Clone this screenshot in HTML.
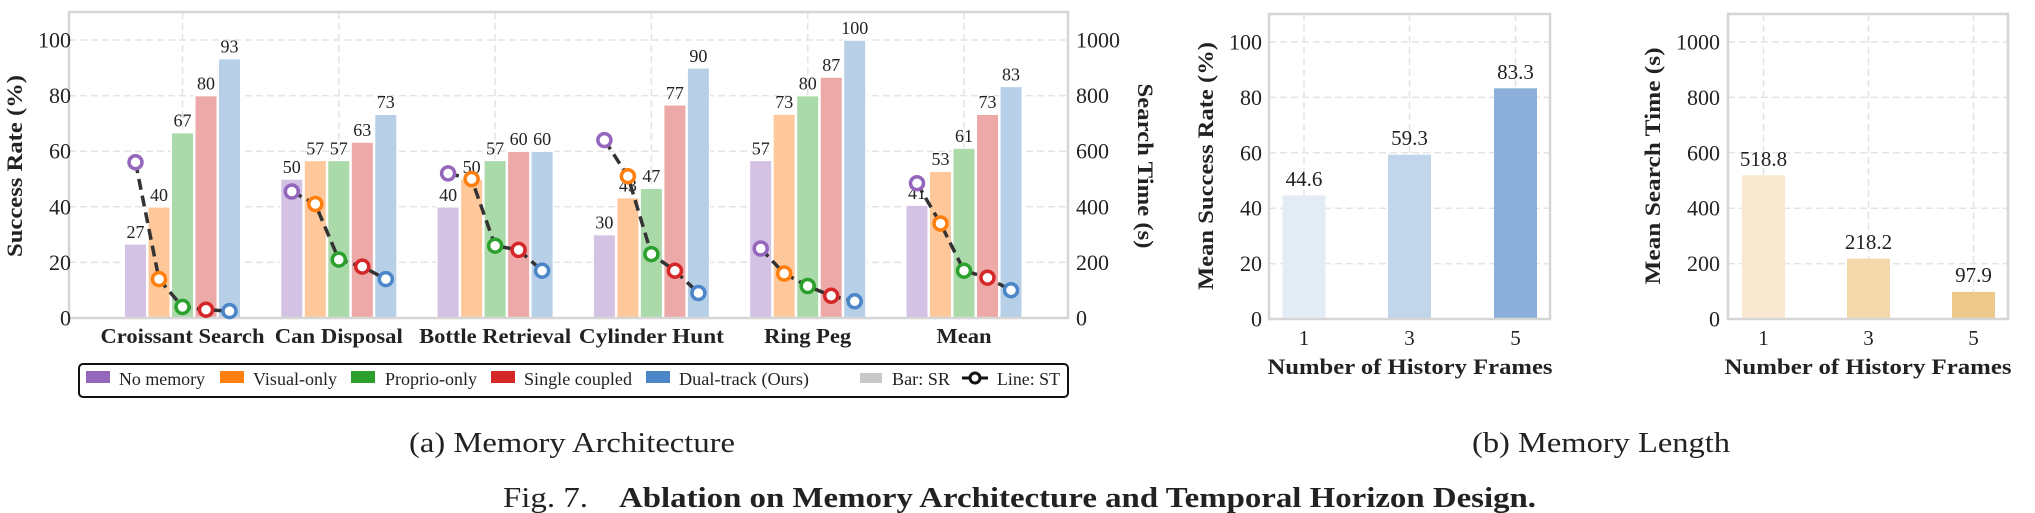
<!DOCTYPE html>
<html><head><meta charset="utf-8"><style>html,body{margin:0;padding:0;background:#fff}svg{display:block}text{font-family:"Liberation Serif",serif;fill:#222}</style></head><body>
<svg width="2035" height="513" viewBox="0 0 2035 513" xmlns="http://www.w3.org/2000/svg">
<rect width="2035" height="513" fill="#fff"/>
<!-- LEFT CHART grid -->
<g stroke="#e4e4e4" stroke-width="1.5" stroke-dasharray="7,4">
<line x1="69" x2="1068" y1="262.4" y2="262.4"/><line x1="69" x2="1068" y1="206.8" y2="206.8"/><line x1="69" x2="1068" y1="151.2" y2="151.2"/><line x1="69" x2="1068" y1="95.6" y2="95.6"/><line x1="69" x2="1068" y1="40" y2="40"/>
<line x1="182.5" x2="182.5" y1="12" y2="318"/><line x1="338.8" x2="338.8" y1="12" y2="318"/><line x1="495.1" x2="495.1" y1="12" y2="318"/><line x1="651.4" x2="651.4" y1="12" y2="318"/><line x1="807.7" x2="807.7" y1="12" y2="318"/><line x1="964" x2="964" y1="12" y2="318"/>
</g>
<!-- bars -->
<g stroke="#fff" stroke-width="1.5">
<g fill="#d4c2e4"><rect x="124.25" y="243.8" width="22.5" height="74.2"/><rect x="280.55" y="179" width="22.5" height="139"/><rect x="436.85" y="206.8" width="22.5" height="111.2"/><rect x="593.15" y="234.6" width="22.5" height="83.4"/><rect x="749.45" y="160.4" width="22.5" height="157.6"/><rect x="905.75" y="205.1" width="22.5" height="112.9"/></g>
<g fill="#fec89b"><rect x="147.75" y="206.8" width="22.5" height="111.2"/><rect x="304.05" y="160.4" width="22.5" height="157.6"/><rect x="460.35" y="179" width="22.5" height="139"/><rect x="616.65" y="197.6" width="22.5" height="120.4"/><rect x="772.95" y="114.2" width="22.5" height="203.8"/><rect x="929.25" y="171.2" width="22.5" height="146.8"/></g>
<g fill="#aad9aa"><rect x="171.25" y="132.6" width="22.5" height="185.4"/><rect x="327.55" y="160.4" width="22.5" height="157.6"/><rect x="483.85" y="160.4" width="22.5" height="157.6"/><rect x="640.15" y="188.2" width="22.5" height="129.8"/><rect x="796.45" y="95.6" width="22.5" height="222.4"/><rect x="952.75" y="148.1" width="22.5" height="169.9"/></g>
<g fill="#eda8a8"><rect x="194.75" y="95.6" width="22.5" height="222.4"/><rect x="351.05" y="142" width="22.5" height="176"/><rect x="507.35" y="151.2" width="22.5" height="166.8"/><rect x="663.65" y="104.8" width="22.5" height="213.2"/><rect x="819.95" y="77" width="22.5" height="241"/><rect x="976.25" y="114.2" width="22.5" height="203.8"/></g>
<g fill="#b7cfe7"><rect x="218.25" y="58.6" width="22.5" height="259.4"/><rect x="374.55" y="114.2" width="22.5" height="203.8"/><rect x="530.85" y="151.2" width="22.5" height="166.8"/><rect x="687.15" y="67.8" width="22.5" height="250.2"/><rect x="843.45" y="40" width="22.5" height="278"/><rect x="999.75" y="86.4" width="22.5" height="231.6"/></g>
</g>
<rect x="69" y="12" width="999" height="306" fill="none" stroke="#d6d6d6" stroke-width="2.5"/>
<!-- bar labels -->
<g font-size="18" text-anchor="middle">
<text x="135.5" y="237.8">27</text><text x="159" y="200.8">40</text><text x="182.5" y="126.6">67</text><text x="206" y="89.6">80</text><text x="229.5" y="52.6">93</text>
<text x="291.8" y="173">50</text><text x="315.3" y="154.4">57</text><text x="338.8" y="154.4">57</text><text x="362.3" y="136">63</text><text x="385.8" y="108.2">73</text>
<text x="448.1" y="200.8">40</text><text x="471.6" y="173">50</text><text x="495.1" y="154.4">57</text><text x="518.6" y="145.2">60</text><text x="542.1" y="145.2">60</text>
<text x="604.4" y="228.6">30</text><text x="627.9" y="191.6">43</text><text x="651.4" y="182.2">47</text><text x="674.9" y="98.8">77</text><text x="698.4" y="61.8">90</text>
<text x="760.7" y="154.4">57</text><text x="784.2" y="108.2">73</text><text x="807.7" y="89.6">80</text><text x="831.2" y="71">87</text><text x="854.7" y="34">100</text>
<text x="917" y="199.1">41</text><text x="940.5" y="165.2">53</text><text x="964" y="142.1">61</text><text x="987.5" y="108.2">73</text><text x="1011" y="80.4">83</text>
</g>
<!-- lines -->
<g fill="none" stroke="#333" stroke-width="3.5" stroke-dasharray="11,6">
<polyline points="135.5,162.3 159,279.1 182.5,306.9 206,309.7 229.5,311.1"/>
<polyline points="291.8,191.5 315.3,204 338.8,259.6 362.3,266.6 385.8,279.1"/>
<polyline points="448.1,173.4 471.6,179 495.1,245.7 518.6,249.9 542.1,270.7"/>
<polyline points="604.4,140.1 627.9,176.2 651.4,254.1 674.9,270.7 698.4,293"/>
<polyline points="760.7,248.5 784.2,273.5 807.7,286 831.2,295.8 854.7,301.3"/>
<polyline points="917,183.2 940.5,223.5 964,270.7 987.5,277.7 1011,290.2"/>
</g>
<g fill="#fff" stroke-width="3.5">
<g stroke="#9467bd"><circle cx="135.5" cy="162.3" r="6.5"/><circle cx="291.8" cy="191.5" r="6.5"/><circle cx="448.1" cy="173.4" r="6.5"/><circle cx="604.4" cy="140.1" r="6.5"/><circle cx="760.7" cy="248.5" r="6.5"/><circle cx="917" cy="183.2" r="6.5"/></g>
<g stroke="#ff7f0e"><circle cx="159" cy="279.1" r="6.5"/><circle cx="315.3" cy="204" r="6.5"/><circle cx="471.6" cy="179" r="6.5"/><circle cx="627.9" cy="176.2" r="6.5"/><circle cx="784.2" cy="273.5" r="6.5"/><circle cx="940.5" cy="223.5" r="6.5"/></g>
<g stroke="#2ca02c"><circle cx="182.5" cy="306.9" r="6.5"/><circle cx="338.8" cy="259.6" r="6.5"/><circle cx="495.1" cy="245.7" r="6.5"/><circle cx="651.4" cy="254.1" r="6.5"/><circle cx="807.7" cy="286" r="6.5"/><circle cx="964" cy="270.7" r="6.5"/></g>
<g stroke="#d62728"><circle cx="206" cy="309.7" r="6.5"/><circle cx="362.3" cy="266.6" r="6.5"/><circle cx="518.6" cy="249.9" r="6.5"/><circle cx="674.9" cy="270.7" r="6.5"/><circle cx="831.2" cy="295.8" r="6.5"/><circle cx="987.5" cy="277.7" r="6.5"/></g>
<g stroke="#4a86c8"><circle cx="229.5" cy="311.1" r="6.5"/><circle cx="385.8" cy="279.1" r="6.5"/><circle cx="542.1" cy="270.7" r="6.5"/><circle cx="698.4" cy="293" r="6.5"/><circle cx="854.7" cy="301.3" r="6.5"/><circle cx="1011" cy="290.2" r="6.5"/></g>
</g>
<!-- left ticks -->
<g font-size="22" text-anchor="end">
<text x="71" y="325.5">0</text><text x="71" y="269.9">20</text><text x="71" y="214.3">40</text><text x="71" y="158.7">60</text><text x="71" y="103.1">80</text><text x="71" y="47.5">100</text>
</g>
<g font-size="22">
<text x="1076" y="325.5">0</text><text x="1076" y="269.9">200</text><text x="1076" y="214.3">400</text><text x="1076" y="158.7">600</text><text x="1076" y="103.1">800</text><text x="1076" y="47.5">1000</text>
</g>
<g font-size="21" font-weight="bold" text-anchor="middle">
<text x="182.5" y="343" textLength="164" lengthAdjust="spacingAndGlyphs">Croissant Search</text>
<text x="338.8" y="343" textLength="128" lengthAdjust="spacingAndGlyphs">Can Disposal</text>
<text x="495.1" y="343" textLength="152" lengthAdjust="spacingAndGlyphs">Bottle Retrieval</text>
<text x="651.4" y="343" textLength="145" lengthAdjust="spacingAndGlyphs">Cylinder Hunt</text>
<text x="807.7" y="343" textLength="87" lengthAdjust="spacingAndGlyphs">Ring Peg</text>
<text x="964" y="343" textLength="55" lengthAdjust="spacingAndGlyphs">Mean</text>
</g>
<text font-size="22" font-weight="bold" text-anchor="middle" transform="translate(22,166) rotate(-90)" textLength="182" lengthAdjust="spacingAndGlyphs">Success Rate (%)</text>
<text font-size="22" font-weight="bold" text-anchor="middle" transform="translate(1138,166) rotate(90)" textLength="165" lengthAdjust="spacingAndGlyphs">Search Time (s)</text>
<!-- legend -->
<rect x="79" y="364" width="989" height="33" rx="4" fill="#fff" stroke="#111" stroke-width="2"/>
<rect x="86" y="371" width="24" height="12" fill="#9467bd"/>
<rect x="220" y="371" width="24" height="12" fill="#ff7f0e"/>
<rect x="351" y="371" width="24" height="12" fill="#2ca02c"/>
<rect x="491" y="371" width="24" height="12" fill="#d62728"/>
<rect x="646" y="371" width="24" height="12" fill="#4a86c8"/>
<rect x="860" y="373" width="22" height="10" fill="#c8c8c8"/>
<line x1="962" y1="378" x2="988" y2="378" stroke="#111" stroke-width="3"/>
<circle cx="975" cy="378" r="5" fill="#fff" stroke="#111" stroke-width="3"/>
<g font-size="18">
<text x="119" y="385" textLength="86" lengthAdjust="spacingAndGlyphs">No memory</text>
<text x="253" y="385" textLength="84" lengthAdjust="spacingAndGlyphs">Visual-only</text>
<text x="385" y="385" textLength="92" lengthAdjust="spacingAndGlyphs">Proprio-only</text>
<text x="524" y="385" textLength="108" lengthAdjust="spacingAndGlyphs">Single coupled</text>
<text x="679" y="385" textLength="130" lengthAdjust="spacingAndGlyphs">Dual-track (Ours)</text>
<text x="892" y="385" textLength="58" lengthAdjust="spacingAndGlyphs">Bar: SR</text>
<text x="997" y="385" textLength="63" lengthAdjust="spacingAndGlyphs">Line: ST</text>
</g>
<!-- B1 -->
<g stroke="#e4e4e4" stroke-width="1.5" stroke-dasharray="7,4">
<line x1="1269" x2="1550" y1="263.6" y2="263.6"/><line x1="1269" x2="1550" y1="208.2" y2="208.2"/><line x1="1269" x2="1550" y1="152.8" y2="152.8"/><line x1="1269" x2="1550" y1="97.4" y2="97.4"/><line x1="1269" x2="1550" y1="42" y2="42"/>
<line x1="1304" x2="1304" y1="14" y2="319"/><line x1="1409.5" x2="1409.5" y1="14" y2="319"/><line x1="1515.5" x2="1515.5" y1="14" y2="319"/>
<line x1="1728" x2="2008" y1="263.6" y2="263.6"/><line x1="1728" x2="2008" y1="208.2" y2="208.2"/><line x1="1728" x2="2008" y1="152.8" y2="152.8"/><line x1="1728" x2="2008" y1="97.4" y2="97.4"/><line x1="1728" x2="2008" y1="42" y2="42"/>
<line x1="1763.5" x2="1763.5" y1="14" y2="319"/><line x1="1868.5" x2="1868.5" y1="14" y2="319"/><line x1="1973.5" x2="1973.5" y1="14" y2="319"/>
</g>
<rect x="1282.5" y="195.5" width="43" height="123.5" fill="#e3ebf5"/>
<rect x="1388" y="154.7" width="43" height="164.3" fill="#c2d6eb"/>
<rect x="1494" y="88.3" width="43" height="230.7" fill="#8bafda"/>
<rect x="1742" y="175.3" width="43" height="143.7" fill="#f8e8d0"/>
<rect x="1847" y="258.6" width="43" height="60.4" fill="#f3d8ab"/>
<rect x="1952" y="291.9" width="43" height="27.1" fill="#ecc88a"/>
<rect x="1269" y="14" width="281" height="305" fill="none" stroke="#d6d6d6" stroke-width="2.5"/>
<rect x="1728" y="14" width="280" height="305" fill="none" stroke="#d6d6d6" stroke-width="2.5"/>
<g font-size="21" text-anchor="middle">
<text x="1304" y="186">44.6</text><text x="1409.5" y="145">59.3</text><text x="1515.5" y="79">83.3</text>
<text x="1763.5" y="166">518.8</text><text x="1868.5" y="249">218.2</text><text x="1973.5" y="282">97.9</text>
<text x="1304" y="345">1</text><text x="1409.5" y="345">3</text><text x="1515.5" y="345">5</text>
<text x="1763.5" y="345">1</text><text x="1868.5" y="345">3</text><text x="1973.5" y="345">5</text>
</g>
<g font-size="22" text-anchor="end">
<text x="1262" y="326.5">0</text><text x="1262" y="271.1">20</text><text x="1262" y="215.7">40</text><text x="1262" y="160.3">60</text><text x="1262" y="104.9">80</text><text x="1262" y="49.5">100</text>
<text x="1720" y="326.5">0</text><text x="1720" y="271.1">200</text><text x="1720" y="215.7">400</text><text x="1720" y="160.3">600</text><text x="1720" y="104.9">800</text><text x="1720" y="49.5">1000</text>
</g>
<g font-size="22" font-weight="bold" text-anchor="middle">
<text x="1410" y="374" textLength="285" lengthAdjust="spacingAndGlyphs">Number of History Frames</text>
<text x="1868" y="374" textLength="287" lengthAdjust="spacingAndGlyphs">Number of History Frames</text>
<text transform="translate(1213,166) rotate(-90)" textLength="248" lengthAdjust="spacingAndGlyphs">Mean Success Rate (%)</text>
<text transform="translate(1660,166) rotate(-90)" textLength="237" lengthAdjust="spacingAndGlyphs">Mean Search  Time (s)</text>
</g>
<!-- captions -->
<g font-size="28">
<text x="409" y="452" textLength="326" lengthAdjust="spacingAndGlyphs">(a) Memory Architecture</text>
<text x="1472" y="452" textLength="258" lengthAdjust="spacingAndGlyphs">(b) Memory Length</text>
<text x="503" y="507" textLength="85" lengthAdjust="spacingAndGlyphs">Fig. 7.</text>
<text x="619" y="507" font-weight="bold" textLength="917" lengthAdjust="spacingAndGlyphs">Ablation on Memory Architecture and Temporal Horizon Design.</text>
</g>
</svg>
</body></html>
